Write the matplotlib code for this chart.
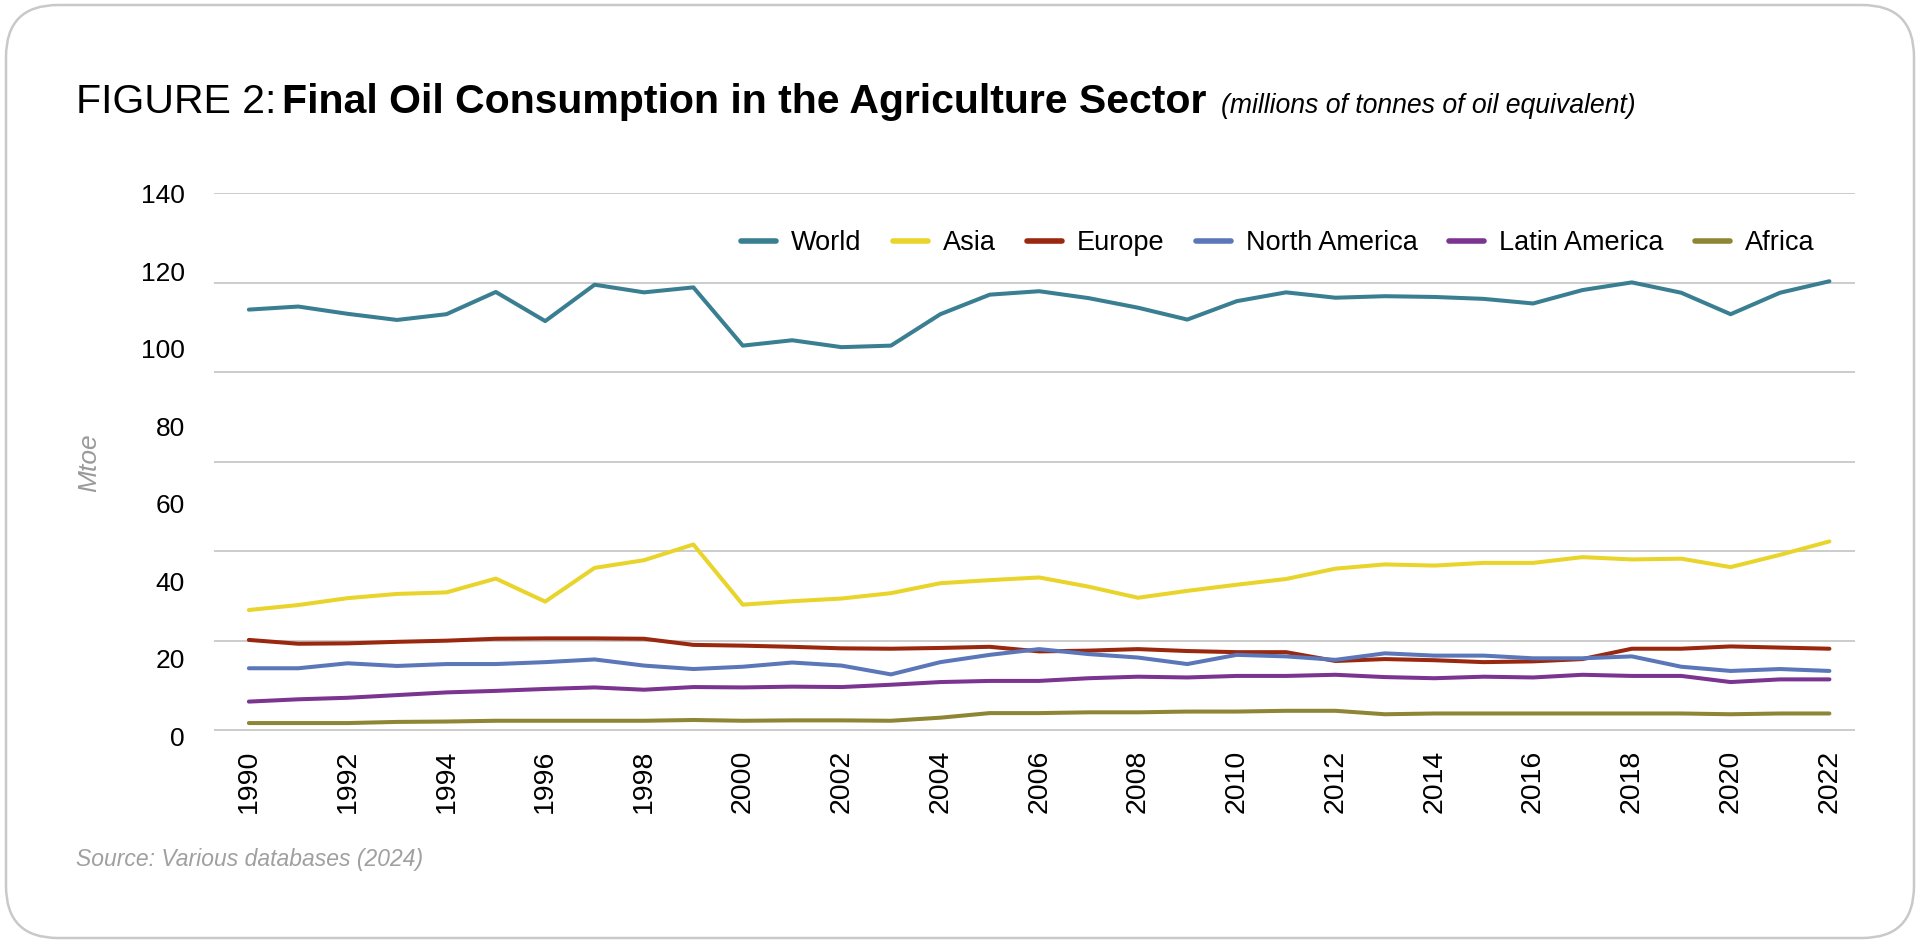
import numpy as np
import matplotlib
matplotlib.use("Agg")
import matplotlib.pyplot as plt
from matplotlib.patches import FancyBboxPatch

plt.rcParams['font.family'] = ['Liberation Sans', 'DejaVu Sans']

years = list(range(1990, 2023))
series_names = ["World", "Asia", "Europe", "North America", "Latin America", "Africa"]
world = [109.7, 110.5, 108.6, 107.0, 108.5, 114.3, 106.7, 116.2, 114.2, 115.5,
         100.3, 101.7, 99.9, 100.3, 108.5, 113.6, 114.5, 112.7, 110.2, 107.1,
         111.9, 114.2, 112.8, 113.2, 113.0, 112.5, 111.3, 114.8, 116.8, 114.1,
         108.5, 114.1, 117.1]
asia = [31.3, 32.6, 34.4, 35.5, 35.9, 39.5, 33.5, 42.3, 44.3, 48.4,
        32.7, 33.6, 34.3, 35.7, 38.3, 39.1, 39.8, 37.4, 34.5, 36.3,
        37.9, 39.4, 42.1, 43.2, 42.9, 43.6, 43.6, 45.1, 44.5, 44.7,
        42.5, 45.7, 49.2]
europe = [23.5, 22.5, 22.6, 23.0, 23.3, 23.8, 23.9, 23.9, 23.8, 22.2,
          22.0, 21.7, 21.3, 21.2, 21.4, 21.7, 20.5, 20.7, 21.1, 20.6,
          20.3, 20.3, 18.0, 18.5, 18.2, 17.7, 17.9, 18.5, 21.2, 21.2,
          21.8, 21.5, 21.2]
north_america = [16.1, 16.1, 17.4, 16.7, 17.2, 17.2, 17.7, 18.4, 16.8, 15.9,
                 16.5, 17.6, 16.8, 14.5, 17.7, 19.6, 21.1, 19.8, 18.9, 17.2,
                 19.6, 19.2, 18.3, 20.0, 19.4, 19.4, 18.7, 18.7, 19.2, 16.5,
                 15.4, 15.9, 15.4]
latin_america = [7.4, 8.0, 8.4, 9.1, 9.8, 10.2, 10.7, 11.1, 10.5, 11.2,
                 11.1, 11.3, 11.2, 11.8, 12.5, 12.8, 12.8, 13.5, 13.9, 13.7,
                 14.1, 14.1, 14.4, 13.8, 13.5, 13.9, 13.7, 14.4, 14.1, 14.1,
                 12.5, 13.2, 13.2]
africa = [1.8, 1.8, 1.8, 2.1, 2.2, 2.4, 2.4, 2.4, 2.4, 2.6,
          2.4, 2.5, 2.5, 2.4, 3.2, 4.4, 4.4, 4.6, 4.6, 4.8,
          4.8, 5.0, 5.0, 4.1, 4.3, 4.3, 4.3, 4.3, 4.3, 4.3,
          4.1, 4.3, 4.3]
colors = ['#3a7e91', '#e9d42b', '#99280f', '#5b77b9', '#7b3591', '#8e8634']

ytick_labels = ["0", "20", "40", "60", "80", "100", "120", "140"]
xtick_years = list(range(1990, 2023, 2))

W, H = 1920, 943
fig = plt.figure(figsize=(W / 100, H / 100), dpi=100)

# rounded frame
bg = fig.add_axes([0, 0, 1, 1], zorder=-5)
bg.set_xlim(0, W)
bg.set_ylim(0, H)
bg.axis('off')
frame = FancyBboxPatch((6, 5), W - 12, H - 10,
                       boxstyle="round,pad=0,rounding_size=52",
                       facecolor='white', edgecolor='#c9c9c9', linewidth=1.8)
bg.add_patch(frame)

# main axes (pixel layout derived from reference at 1568x770 scale)
sc = 1568.0
left = 175 / sc
right = 1515 / sc
bottom_px = 602.3
top_px = 158
ax = fig.add_axes([left, 1 - bottom_px / 770, right - left, (bottom_px - top_px) / 770])
ax.set_facecolor('none')

for gv in np.linspace(0, 140, 7):
    ax.axhline(gv, color='#c4c4c4', linewidth=1.2, zorder=1)

data = [world, asia, europe, north_america, latin_america, africa]
for name, vals, c in zip(series_names, data, colors):
    ax.plot(years, vals, color=c, linewidth=2.9, label=name, zorder=3,
            solid_capstyle='round', solid_joinstyle='round')

ax.set_xlim(1989.3, 2022.52)
ax.set_ylim(-2, 140)
ax.set_yticks(np.linspace(-1.6, 140, 8))
ax.set_yticklabels(ytick_labels)
ax.set_xticks(xtick_years)
ax.set_xticklabels([str(y) for y in xtick_years], rotation=90)
ax.tick_params(axis='y', length=0, pad=21, labelsize=19, labelcolor='black')
ax.tick_params(axis='x', length=0, pad=9, labelsize=20.5, labelcolor='black')
for s in ax.spines.values():
    s.set_visible(False)

fig.text(73 / sc, 1 - 378 / 770, "Mtoe", rotation=90, fontsize=19, style='italic',
         color='#9a9a9a', ha='center', va='center')

leg = fig.legend(loc='center', bbox_to_anchor=((604 + 1483) / 2 / sc, 1 - 198.5 / 770),
                 ncol=6, frameon=False, fontsize=19.5, handlelength=1.3,
                 handletextpad=0.55, columnspacing=1.15, borderpad=0)
for h in leg.get_lines():
    h.set_linewidth(4)

# title made of three pieces
renderer = fig.canvas.get_renderer()
ty = 1 - 92.5 / 770
x0 = 62 / sc
t1 = fig.text(x0, ty, "FIGURE 2:", fontsize=29.5, va='baseline', ha='left', color='black')
bb = t1.get_window_extent(renderer)
t2 = fig.text((bb.x1 + 6) / W, ty, "Final Oil Consumption in the Agriculture Sector",
              fontsize=29.5, fontweight='bold', va='baseline', ha='left', color='black')
bb2 = t2.get_window_extent(renderer)
fig.text((bb2.x1 + 14) / W, ty, "(millions of tonnes of oil equivalent)",
         fontsize=19.2, style='italic', va='baseline', ha='left', color='black')

fig.text(62 / sc, 1 - 702 / 770, "Source: Various databases (2024)", fontsize=16.5,
         style='italic', color='#a0a0a0', ha='left', va='center')

fig.savefig("out.png", dpi=100)
